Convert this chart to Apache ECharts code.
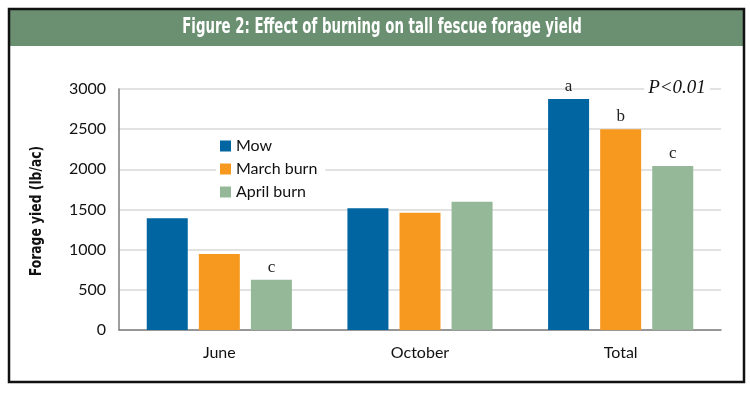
<!DOCTYPE html>
<html><head><meta charset="utf-8">
<script src="https://cdn.jsdelivr.net/npm/echarts@6/dist/echarts.min.js"></script>
<style>html,body{margin:0;padding:0;background:#fff}#c{width:750px;height:393px}</style>
</head><body><div id="c"></div>
<script>
const categories = ['June', 'October', 'Total'];
const mow = [1390, 1515, 2875];
const marchBurn = [945, 1460, 2500];
const aprilBurn = [625, 1595, 2040];
const mowLetters = ['', '', 'a'];
const marchLetters = ['', '', 'b'];
const aprilLetters = ['c', '', 'c'];
const yTicks = [0, 500, 1000, 1500, 2000, 2500, 3000];

const chart = echarts.init(document.getElementById('c'), null, {renderer: 'canvas'});
const mainFont = 'Lato, "Noto Sans", sans-serif';
function letterLabel(arr) {
  return {
    show: true, position: 'top', distance: 4,
    fontFamily: '"Liberation Serif", "DejaVu Serif", serif', fontSize: 17, color: '#222',
    formatter: p => arr[p.dataIndex]
  };
}
chart.setOption({
  animation: false,
  grid: {left: 119, right: 29, top: 89, bottom: 63},
  legend: {
    orient: 'vertical', left: 216, top: 134, backgroundColor: '#fff',
    padding: [4, 8, 4, 4],
    itemWidth: 11, itemHeight: 11, itemGap: 7, icon: 'rect',
    textStyle: {fontFamily: mainFont, fontSize: 16, color: '#111'},
    data: ['Mow', 'March burn', 'April burn']
  },
  xAxis: {
    type: 'category', data: categories,
    axisLine: {lineStyle: {color: '#7f7f7f', width: 1.5}},
    axisTick: {show: false},
    axisLabel: {fontFamily: mainFont, fontSize: 16, color: '#111', margin: 15}
  },
  yAxis: {
    type: 'value', min: yTicks[0], max: yTicks[yTicks.length - 1], interval: 500,
    axisLine: {show: true, lineStyle: {color: '#7f7f7f', width: 1.5}},
    axisTick: {show: false},
    splitLine: {lineStyle: {color: '#d9d9d9', width: 1.5}},
    axisLabel: {fontFamily: mainFont, fontSize: 16, color: '#111', margin: 13, formatter: v => String(v)}
  },
  series: [
    {name: 'Mow', type: 'bar', data: mow, barWidth: 41, barGap: '27%', itemStyle: {color: '#0065a1'}, label: letterLabel(mowLetters)},
    {name: 'March burn', type: 'bar', data: marchBurn, barWidth: 41, barGap: '27%', itemStyle: {color: '#f7991f'}, label: letterLabel(marchLetters)},
    {name: 'April burn', type: 'bar', data: aprilBurn, barWidth: 41, barGap: '27%', itemStyle: {color: '#94b898'}, label: letterLabel(aprilLetters)}
  ],
  graphic: [
    {type: 'rect', shape: {x: 9, y: 9, width: 735, height: 373}, style: {fill: 'none', stroke: '#111', lineWidth: 2.5}, z: 100},
    {type: 'rect', shape: {x: 10, y: 10, width: 733, height: 36}, style: {fill: '#6b8f71'}, z: 99},
    {type: 'text', x: 382, y: 28, scaleX: 0.635, style: {text: 'Figure 2: Effect of burning on tall fescue forage yield', fill: '#fff', font: 'bold 21px "DejaVu Sans", sans-serif', textAlign: 'center', textVerticalAlign: 'middle'}, z: 101},
    {type: 'text', x: 37, y: 211, rotation: Math.PI / 2, scaleX: 0.77, style: {text: 'Forage yied (lb/ac)', fill: '#111', font: 'bold 16px "DejaVu Sans", sans-serif', textAlign: 'center', textVerticalAlign: 'middle'}, z: 101},
    {type: 'text', x: 677, y: 88, style: {text: 'P<0.01', fill: '#111', font: 'italic 19px "Liberation Serif", "DejaVu Serif", serif', textAlign: 'center', textVerticalAlign: 'middle', backgroundColor: '#fff', padding: [0, 4]}, z: 50}
  ]
});
</script></body></html>
